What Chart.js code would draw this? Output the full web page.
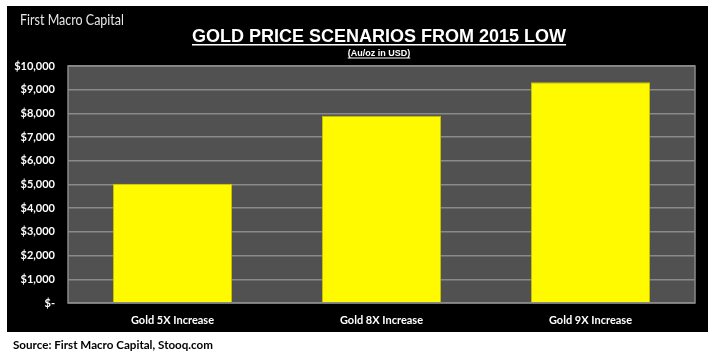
<!DOCTYPE html>
<html>
<head>
<meta charset="utf-8">
<script src="https://cdn.jsdelivr.net/npm/chart.js@4/dist/chart.umd.min.js"></script>
<style>
html,body{margin:0;padding:0;background:#fff;}
#wrap{width:720px;height:357px;position:relative;}
</style>
</head>
<body>
<div id="wrap"><canvas id="c" width="720" height="357"></canvas></div>
<script>
const categories = ['Gold 5X Increase', 'Gold 8X Increase', 'Gold 9X Increase'];
const goldValues = [5030, 7900, 9310];
const yTicks = [0, 1000, 2000, 3000, 4000, 5000, 6000, 7000, 8000, 9000, 10000];
const chartTitle = 'GOLD PRICE SCENARIOS FROM 2015 LOW';
const chartSubtitle = '(Au/oz in USD)';
const brandText = 'First Macro Capital';
const sourceText = 'Source: First Macro Capital, Stooq.com';

function fmt(v){ return v === 0 ? '$-' : '$' + v.toLocaleString('en-US'); }

const decor = {
  id: 'decor',
  beforeDraw(chart){
    const ctx = chart.ctx, a = chart.chartArea;
    ctx.save();
    ctx.fillStyle = '#ffffff';
    ctx.fillRect(0,0,720,357);
    ctx.fillStyle = '#000000';
    ctx.fillRect(7,6,701,326);
    ctx.fillStyle = '#515151';
    ctx.fillRect(a.left, a.top, a.right-a.left, a.bottom-a.top);
    ctx.restore();
  },
  afterDraw(chart){
    const ctx = chart.ctx, a = chart.chartArea;
    ctx.save();
    ctx.strokeStyle = '#8a8a8a';
    ctx.lineWidth = 1.5;
    ctx.strokeRect(a.left, a.top, a.right-a.left, a.bottom-a.top);
    // brand
    ctx.fillStyle = '#e6e6e6';
    ctx.font = '15px Lato, "DejaVu Sans", sans-serif';
    ctx.textBaseline = 'alphabetic';
    ctx.textAlign = 'left';
    ctx.fillText(brandText, 20, 25, 104);
    // title
    const cx = 379;
    ctx.fillStyle = '#ffffff';
    ctx.textAlign = 'center';
    ctx.font = 'bold 18px "Liberation Sans", Arial, sans-serif';
    let w = Math.min(ctx.measureText(chartTitle).width, 388);
    ctx.fillText(chartTitle, cx, 42, 388);
    ctx.fillRect(cx - w/2, 44, w, 1.5);
    // subtitle
    ctx.font = 'bold 9px "Liberation Sans", Arial, sans-serif';
    w = Math.min(ctx.measureText(chartSubtitle).width, 73);
    ctx.fillText(chartSubtitle, cx, 56, 73);
    ctx.fillRect(cx - w/2, 57.5, w, 1);
    // source
    ctx.fillStyle = '#000000';
    ctx.textAlign = 'left';
    ctx.font = 'bold 12px Lato, "Open Sans", sans-serif';
    ctx.fillText(sourceText, 13, 349, 200);
    ctx.restore();
  }
};

new Chart(document.getElementById('c'), {
  type: 'bar',
  data: {
    labels: categories,
    datasets: [{
      data: goldValues,
      backgroundColor: '#FFFA00',
      borderColor: '#C9C200',
      borderWidth: 1,
      barPercentage: 0.57,
      categoryPercentage: 1.0
    }]
  },
  options: {
    responsive: false,
    animation: false,
    devicePixelRatio: 1,
    layout: { padding: { left: 0, top: 66, right: 25, bottom: 0 } },
    plugins: { legend: { display: false }, title: { display: false }, tooltip: { enabled: false } },
    scales: {
      x: {
        grid: { display: false, drawTicks: false },
        border: { display: false },
        ticks: { color: '#ffffff', font: { family: 'Lato', weight: 'bold', size: 11 }, padding: 11, maxRotation: 0 },
        afterFit(s){ s.height = 54; }
      },
      y: {
        min: 0, max: 10000,
        afterBuildTicks(s){ s.ticks = yTicks.map(v => ({ value: v })); },
        grid: { color: '#8a8a8a', lineWidth: 1.5, drawTicks: false },
        border: { display: false },
        ticks: { color: '#ffffff', font: { family: 'Lato', weight: 'bold', size: 11 }, padding: 13, callback: v => fmt(v) },
        afterFit(s){ s.width = 68; }
      }
    }
  },
  plugins: [decor]
});
</script>
</body>
</html>
